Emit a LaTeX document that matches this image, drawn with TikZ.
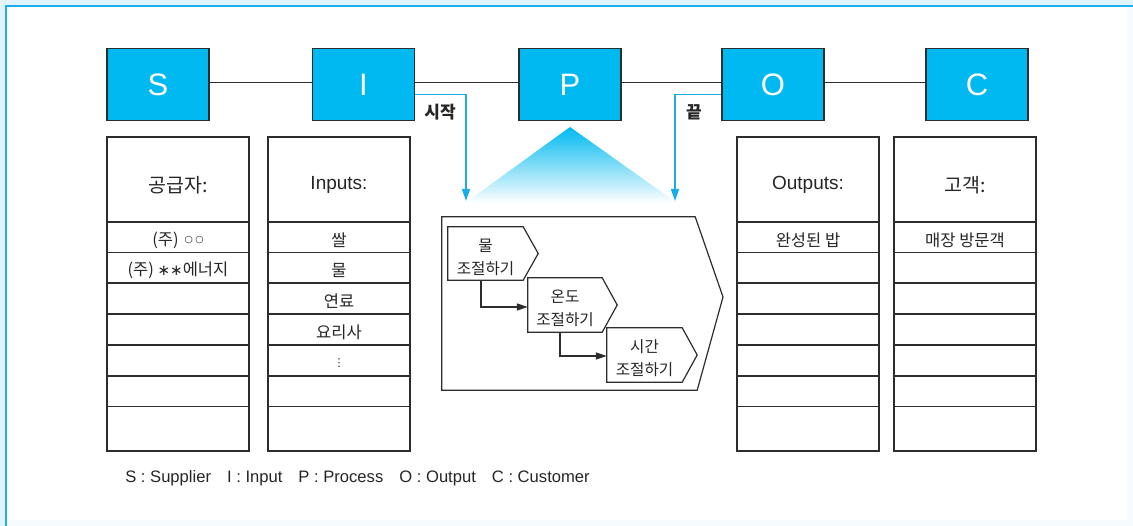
\documentclass[tikz,border=0pt]{standalone}
\usepackage{fontspec}
\setmainfont{Liberation Sans}
\newfontfamily\kr{Noto Sans CJK KR}
\newfontfamily\dv{DejaVu Sans}
\usetikzlibrary{arrows.meta,calc}
\definecolor{sipoc}{RGB}{0,185,240}
\definecolor{framebl}{RGB}{30,176,236}
\definecolor{framelt}{RGB}{226,244,251}
\definecolor{framefaint}{RGB}{246,251,253}
\definecolor{edge}{RGB}{45,45,45}
\definecolor{flowbl}{RGB}{24,172,232}
\newcommand\twocircles{\raisebox{2.5pt}{\dv\fontsize{9.5}{9.5}\selectfont ○\hspace{2.5pt}○}}
\newcommand\twostars{{\dv\fontsize{15}{15}\selectfont ∗∗}}
\begin{document}
\begin{tikzpicture}[x=1pt,y=-1pt,
  letterbox/.style={draw=edge,line width=1.4pt,fill=sipoc,minimum width=102pt,
    minimum height=72pt,inner sep=0pt,text=white,font=\fontsize{31}{31}\selectfont},
  link/.style={draw=edge,line width=1pt},
  flow/.style={draw=flowbl,line width=1.4pt,-{Triangle[length=12pt,width=8pt]},
    color=flowbl},
  flowlabel/.style={font=\kr\bfseries\fontsize{17}{17}\selectfont,text=black!85},
  cell/.style={draw=edge,line width=1.2pt,minimum width=142pt,inner sep=0pt},
  celltext/.style={inner sep=0pt,font=\kr\fontsize{16.5}{16.5}\selectfont,text=black!85},
  headtext/.style={inner sep=0pt,font=\fontsize{19}{19}\selectfont,text=black!85},
  krhead/.style={inner sep=0pt,font=\kr\fontsize{19.5}{19.5}\selectfont,text=black!85},
  stepbox/.style={inner sep=0pt},
  steptext/.style={inner sep=0pt,align=center,font=\kr\fontsize{15.6}{23}\selectfont,
    text=black!85},
  outline/.style={draw=edge,line width=1.2pt,line join=miter},
  stepflow/.style={draw=edge,line width=1.2pt,-{Triangle[length=11pt,width=7pt]}},
]
% page and frame
\fill[white] (0,0) rectangle (1133,526);
\useasboundingbox (0,0) rectangle (1133,526);
\fill[framelt] (0,0) rectangle (1133,5);
\fill[framelt] (0,0) rectangle (5,526);
\fill[framefaint] (1127,6) rectangle (1133,526);
\fill[framefaint] (6,520) rectangle (1133,526);
\draw[framebl,line width=2.5pt] (6.2,526) -- (6.2,6.2) -- (1133,6.2);

% S-I-P-O-C chain
\node[letterbox] (S) at (158,84.5) {S};
\node[letterbox] (I) at (363.5,84.5) {I};
\node[letterbox] (P) at (570,84.5) {P};
\node[letterbox] (O) at (773,84.5) {O};
\node[letterbox] (C) at (977,84.5) {C};
\draw[link] ([yshift=2pt]S.east) -- ([yshift=2pt]I.west);
\draw[link] ([yshift=2pt]I.east) -- ([yshift=2pt]P.west);
\draw[link] ([yshift=2pt]P.east) -- ([yshift=2pt]O.west);
\draw[link] ([yshift=2pt]O.east) -- ([yshift=2pt]C.west);

% fan-out from P into the process detail
\shade[top color=sipoc, bottom color=white] (570,127) -- (677,203) -- (465,203) -- cycle;

% start and end of the process
\coordinate (inP) at (466,201);
\coordinate (outP) at (675,201);
\draw[flow] ([yshift=-10pt]I.east) -| (inP);
\draw[flow] ([yshift=-10pt]O.west) -| (outP);
\node[flowlabel] (start) at (440,112.5) {시작};
\node[flowlabel] (end) at (694,112.5) {끝};

% process detail
\node[inner sep=0pt,minimum width=253pt,minimum height=173pt] (proc) at (568.5,303.5) {};
\draw[outline] (proc.north west) -- (proc.north east) -- (723,297)
  -- ([xshift=2pt]proc.south east) -- (proc.south west) -- cycle;

\node[stepbox,minimum width=75pt,minimum height=53pt] (s1) at (485.5,253.5) {};
\node[stepbox,minimum width=74pt,minimum height=54pt] (s2) at (565,305) {};
\node[stepbox,minimum width=75pt,minimum height=54pt] (s3) at (644.5,355) {};
\foreach \s in {s1,s2,s3}{
  \draw[outline] (\s.north west) -- (\s.north east) -- ([xshift=15pt]\s.east)
    -- (\s.south east) -- (\s.south west) -- cycle;
}
\node[steptext] (t1) at ([yshift=-3.5pt]s1.center) {물\\조절하기};
\node[steptext] (t2) at ([yshift=-3.5pt]s2.center) {온도\\조절하기};
\node[steptext] (t3) at ([yshift=-3.5pt]s3.center) {시간\\조절하기};
\draw[stepflow] ([xshift=-4.5pt]s1.south) |- ([yshift=-2pt]s2.west);
\draw[stepflow] ([xshift=-5pt]s2.south) |- ([yshift=-1pt]s3.west);

% S, I, O, C columns: header cells
\node[cell,minimum height=85pt] (sh) at (178,179.5) {};
\node[cell,minimum height=85pt] (ih) at (339,179.5) {};
\node[cell,minimum height=85pt] (oh) at (808,179.5) {};
\node[cell,minimum height=85pt] (ch) at (965,179.5) {};
\node[krhead] (sht) at ([yshift=-6pt]sh.center) {공급자:};
\node[headtext] (iht) at ([yshift=-5pt]ih.center) {Inputs:};
\node[headtext] (oht) at ([yshift=-5pt]oh.center) {Outputs:};
\node[krhead] (cht) at ([yshift=-6pt]ch.center) {고객:};

% body cells
\foreach \c/\h/\t [count=\k] in {237.25/30.5/{(주)\hspace{6pt}\twocircles},
    267.75/30.5/{(주) \twostars 에너지},
    298.5/31/, 329.5/31/, 360.5/31/, 391.25/30.5/, 428.75/44.5/}{
  \node[cell,minimum height=\h pt] (sr\k) at (178,\c) {};
  \node[celltext] (srt\k) at ([yshift=-3pt]sr\k.center) {\t};
}
\foreach \c/\h/\t [count=\k] in {237.25/30.5/쌀, 267.75/30.5/물,
    298.5/31/연료, 329.5/31/요리사, 360.5/31/{\dv\fontsize{11}{11}\selectfont ⋮},
    391.25/30.5/, 428.75/44.5/}{
  \node[cell,minimum height=\h pt] (ir\k) at (339,\c) {};
  \node[celltext] (irt\k) at ([yshift=-3pt]ir\k.center) {\t};
}
\foreach \c/\h/\t [count=\k] in {237.25/30.5/완성된 밥, 267.75/30.5/,
    298.5/31/, 329.5/31/, 360.5/31/, 391.25/30.5/, 428.75/44.5/}{
  \node[cell,minimum height=\h pt] (or\k) at (808,\c) {};
  \node[celltext] (ort\k) at ([yshift=-3pt]or\k.center) {\t};
}
\foreach \c/\h/\t [count=\k] in {237.25/30.5/매장 방문객, 267.75/30.5/,
    298.5/31/, 329.5/31/, 360.5/31/, 391.25/30.5/, 428.75/44.5/}{
  \node[cell,minimum height=\h pt] (cr\k) at (965,\c) {};
  \node[celltext] (crt\k) at ([yshift=-3pt]cr\k.center) {\t};
}

% legend
\node[font=\fontsize{16.6}{16.6}\selectfont,text=black!85] (legend) at (357.5,478)
  {S : Supplier\hspace{16pt}I : Input\hspace{16pt}P : Process\hspace{16pt}O : Output\hspace{16pt}C : Customer};
\end{tikzpicture}
\end{document}
